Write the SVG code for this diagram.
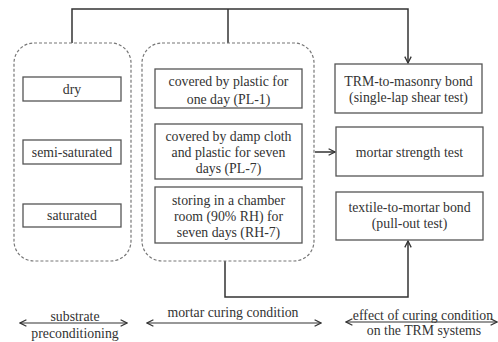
<svg xmlns="http://www.w3.org/2000/svg" width="498" height="342" viewBox="0 0 498 342">
<defs>
<style>
.t{font-family:'Liberation Serif','Times New Roman','DejaVu Serif',serif;font-size:13.8px;fill:#333;text-anchor:middle}
.box{fill:#fff;stroke:#555;stroke-width:1.3}
.grp{fill:none;stroke:#777;stroke-width:1.2;stroke-dasharray:3 2}
.ln{fill:none;stroke:#333;stroke-width:1.5}
.ln2{fill:none;stroke:#333;stroke-width:1.2}
</style>
<marker id="ah" viewBox="0 0 10 10" refX="9" refY="5" markerWidth="8" markerHeight="8" markerUnits="userSpaceOnUse" orient="auto-start-reverse">
<path d="M1,1 L9,5 L1,9" fill="none" stroke="#333" stroke-width="1.6"/>
</marker>
</defs>
<rect width="498" height="342" fill="#fff"/>
<g id="connectors">
<path class="ln" d="M72,43 V9 H408 V63" marker-end="url(#ah)"/>
<path class="ln" d="M228,9 V43"/>
<path class="ln" d="M315,152 H335" marker-end="url(#ah)"/>
<path class="ln" d="M225,261 V297 H408 V241" marker-end="url(#ah)"/>
<path class="ln2" d="M20,323 H127" marker-start="url(#ah)" marker-end="url(#ah)"/>
<path class="ln2" d="M147,323 H321" marker-start="url(#ah)" marker-end="url(#ah)"/>
<path class="ln2" d="M346,322 H497" marker-start="url(#ah)" marker-end="url(#ah)"/>
</g>
<g id="group-substrate"><rect class="grp" x="14" y="43" width="117" height="218" rx="20"/></g>
<g id="group-curing"><rect class="grp" x="142" y="43" width="172" height="218" rx="20"/></g>
<g class="t">
<g id="dry"><rect class="box" x="23" y="77" width="98" height="24"/><text x="72" y="93.5">dry</text></g>
<g id="semi-saturated"><rect class="box" x="23" y="140" width="98" height="24"/><text x="72" y="156.5">semi-saturated</text></g>
<g id="saturated"><rect class="box" x="23" y="204" width="98" height="23"/><text x="72" y="220">saturated</text></g>
<g id="pl1"><rect class="box" x="155" y="69" width="147" height="39"/><text x="228.5" y="86">covered by plastic for</text><text x="228.5" y="104">one day (PL-1)</text></g>
<g id="pl7"><rect class="box" x="155" y="124" width="147" height="55"/><text x="228.5" y="141">covered by damp cloth</text><text x="228.5" y="157">and plastic for seven</text><text x="228.5" y="173">days (PL-7)</text></g>
<g id="rh7"><rect class="box" x="155" y="187" width="147" height="56"/><text x="228.5" y="205">storing in a chamber</text><text x="228.5" y="221">room (90% RH) for</text><text x="228.5" y="237">seven days (RH-7)</text></g>
<g id="trm-masonry"><rect class="box" x="335" y="64" width="147" height="49"/><text x="408.5" y="86">TRM-to-masonry bond</text><text x="408.5" y="102">(single-lap shear test)</text></g>
<g id="mortar-strength"><rect class="box" x="336" y="127" width="147" height="49"/><text x="409.5" y="157">mortar strength test</text></g>
<g id="textile-mortar"><rect class="box" x="336" y="192" width="147" height="48"/><text x="409.5" y="212">textile-to-mortar bond</text><text x="409.5" y="228">(pull-out test)</text></g>
<g id="labels">
<text x="75" y="321">substrate</text>
<text x="75" y="338">preconditioning</text>
<text x="233" y="317">mortar curing condition</text>
<text x="423" y="320">effect of curing condition</text>
<text x="424" y="335">on the TRM systems</text>
</g>
</g>
</svg>
